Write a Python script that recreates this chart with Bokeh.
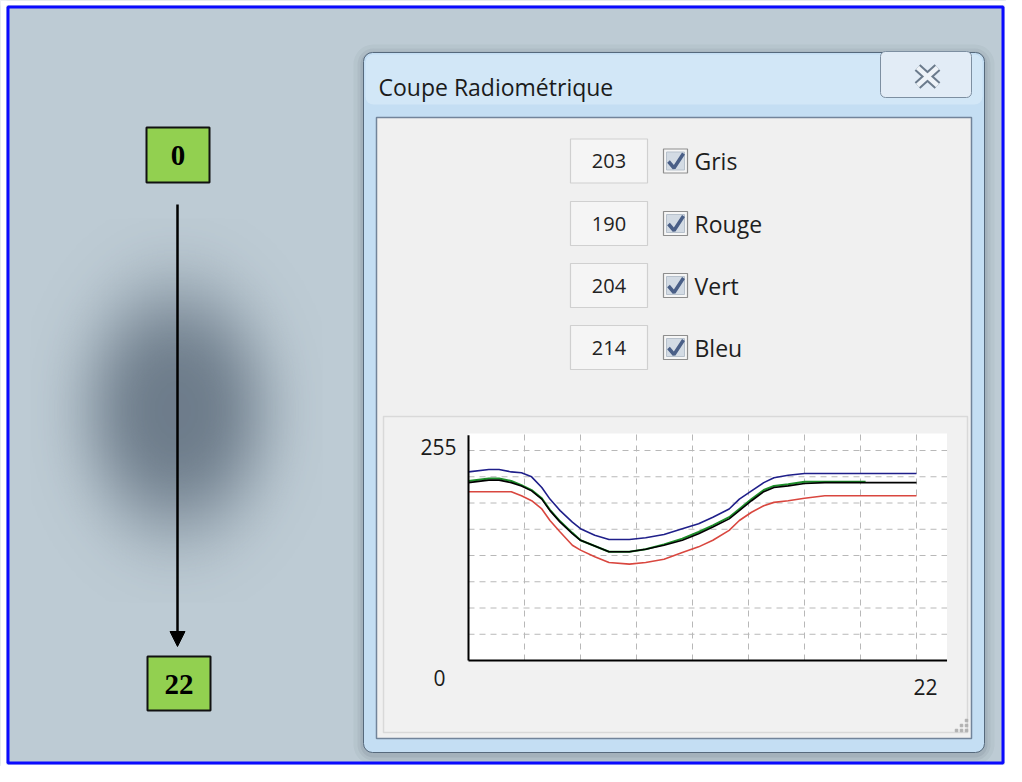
import numpy as np
from bokeh.plotting import figure
from bokeh.models import Range1d, BoxAnnotation, Arrow, NormalHead
from bokeh.core.properties import value
from bokeh.embed import file_html
from bokeh.resources import INLINE

# ---------------- data ----------------
profile_x = [0, 1.0, 1.5, 2.1, 2.6, 3.1, 3.6, 4.0, 4.5, 5.1, 5.5, 6.2, 6.9, 7.9, 8.7,
             9.6, 10.5, 11.3, 12.0, 12.8, 13.3, 13.9, 14.5, 15.0, 15.7, 16.5, 17.5, 19.5, 22]
bleu = [229, 232, 232, 229, 228, 223, 210, 196, 182, 168, 160, 152, 147, 147, 149,
        153, 160, 166, 174, 184, 196, 206, 216, 222, 225, 227, 227, 227, 227]
gris = [216, 219, 219, 216, 212, 206, 196, 182, 168, 154, 146, 139, 132, 132, 135,
        140, 146, 154, 162, 172, 182, 194, 205, 210, 212, 215, 216, 216, 216]
rouge = [205, 205, 205, 205, 200, 194, 184, 170, 156, 140, 134, 126, 119, 117, 119,
         123, 131, 138, 146, 158, 170, 180, 188, 192, 194, 197, 200, 200, 200]
vert_x = [0, 1.0, 1.5, 2.1, 2.6, 3.1, 3.6, 4.0, 4.5, 5.1, 5.5, 6.2, 6.9, 7.9, 8.7,
          9.6, 10.5, 11.3, 12.0, 12.8, 13.3, 13.9, 14.5, 15.0, 15.7, 16.5, 17.5, 19.5]
vert = [218, 221, 221, 218, 213, 207, 197, 183, 169, 155, 146, 139, 132, 132, 135,
        141, 148, 156, 164, 174, 184, 196, 207, 212, 214, 217, 217, 217]

grid_x = [2.75, 5.5, 8.25, 11.0, 13.75, 16.5, 19.25, 22.0]
grid_y = [31.875, 63.75, 95.625, 127.5, 159.375, 191.25, 223.125, 255.0]
x_max, y_max = 22, 255
plot_right, plot_top = 23.5, 275.5

channel_names = ["Gris", "Rouge", "Vert", "Bleu"]
channel_values = ["203", "190", "204", "214"]
profile_ends = ["0", "22"]
title = "Coupe Radiométrique"

# ---------------- page geometry (screen pixels) ----------------
W, H = 1006, 766
p = figure(width=W, height=H, x_range=Range1d(0, W), y_range=Range1d(H, 0),
           x_axis_type=None, y_axis_type=None, output_backend="svg",
           toolbar_location=None, min_border=0)
p.grid.visible = False
p.background_fill_color = "#bdcbd4"
p.border_fill_color = "white"
p.outline_line_alpha = 0

# chart coordinate system mapped onto the dialog's plot area
X0_PX, XE_PX = 468, 916
Y0_PX, YE_PX = 660, 450
sx = (XE_PX - X0_PX) / x_max
sy = (Y0_PX - YE_PX) / y_max
p.extra_x_ranges = {"cx": Range1d(0 - X0_PX / sx, x_max + (W - XE_PX) / sx)}
p.extra_y_ranges = {"cy": Range1d(0 - (H - Y0_PX) / sy, y_max + YE_PX / sy)}
C = dict(x_range_name="cx", y_range_name="cy")

# ---------------- blurred dark spot ----------------
nx, ny = 240, 320
gx = np.linspace(-1.25, 1.25, nx)
gy = np.linspace(-1.25, 1.25, ny)
XX, YY = np.meshgrid(gx, gy)
rr = np.sqrt(XX ** 2 + YY ** 2)
alpha = 0.76 * np.exp(-2.0 * rr ** 3)
img = np.zeros((ny, nx, 4), dtype=np.uint8)
img[..., 0] = 84
img[..., 1] = 99
img[..., 2] = 115
img[..., 3] = (alpha * 255).astype(np.uint8)
p.image_rgba(image=[img.view(np.uint32).reshape(ny, nx)], x=176 - 146, y=410 - 192,
             dw=292, dh=384, level="image")

# ---------------- arrow + green labels ----------------
p.add_layout(Arrow(x_start=177, y_start=204, x_end=177, y_end=646, line_width=2.5,
                   line_color="black",
                   end=NormalHead(size=15, fill_color="black", line_color="black")))
p.quad(left=[146, 147], right=[209, 210], top=[127, 656], bottom=[182, 710],
       fill_color="#92d050", line_color="#111111", line_width=2)
p.text(x=[177.5, 178.5], y=[155, 684], text=profile_ends,
       text_font=value("Liberation Serif"), text_font_style="bold",
       text_font_size="29px", text_align="center", text_baseline="middle",
       text_color="black")

# ---------------- dialog window ----------------
for pad, a in [(10, 0.04), (6, 0.05), (3, 0.07)]:
    p.add_layout(BoxAnnotation(left=363 - pad, right=984 + pad, top=52 - pad + 2,
                               bottom=752 + pad + 2, border_radius=10 + pad,
                               fill_color="#1e2a36", fill_alpha=a, line_alpha=0,
                               level="underlay"))
p.add_layout(BoxAnnotation(left=363, right=984, top=52, bottom=752, border_radius=9,
                           fill_color="#c4def3", fill_alpha=1, line_color="#56697c",
                           line_alpha=1, line_width=1, level="underlay"))
p.add_layout(BoxAnnotation(left=365, right=982, top=54, bottom=104, border_radius=8,
                           fill_color="#d6e8f7", fill_alpha=0.8, line_alpha=0,
                           level="underlay"))
p.add_layout(BoxAnnotation(left=880, right=971, top=51, bottom=97, border_radius=5,
                           fill_color="#e2ecf6", fill_alpha=1, line_color="#7d8fa1",
                           line_alpha=1, line_width=1, level="underlay"))
p.segment(x0=[917, 937], y0=[67, 67], x1=[937, 917], y1=[85, 85],
          line_color="#6b7b8c", line_width=8.5)
p.segment(x0=[917, 937], y0=[67, 67], x1=[937, 917], y1=[85, 85],
          line_color="#eef3f8", line_width=4.5)
p.text(x=[378], y=[86], text=[title], text_font=value("Open Sans"),
       text_font_size="23px", text_align="left", text_baseline="middle",
       text_color="#1b1b1b")

# client area
p.quad(left=[376], right=[971], top=[117], bottom=[738], fill_color="#f0f0f0",
       line_color="#72849a", line_width=1.5)

# value boxes, checkboxes, labels
row_y = [160.5, 223, 285, 347]
p.quad(left=[570] * 4, right=[647] * 4, top=[y - 22 for y in row_y],
       bottom=[y + 22 for y in row_y], fill_color="#f5f5f5", line_color="#d0d0d0",
       line_width=1.2)
p.text(x=[608.5] * 4, y=row_y, text=channel_values, text_font=value("Open Sans"),
       text_font_size="20px", text_align="center", text_baseline="middle",
       text_color="#222222")
p.quad(left=[663] * 4, right=[687] * 4, top=[y - 12 for y in row_y],
       bottom=[y + 12 for y in row_y], fill_color="#f6f6f6", line_color="#8e8e8e",
       line_width=1.2)
p.quad(left=[666] * 4, right=[684] * 4, top=[y - 9 for y in row_y],
       bottom=[y + 9 for y in row_y], fill_color="#d3dbe4", line_color="#b7c1cc",
       line_width=1)
p.multi_line(xs=[[668, 673.5, 683] for _ in row_y],
             ys=[[y + 0.5, y + 7, y - 7.5] for y in row_y],
             line_color="#4a5f87", line_width=3.5)
p.text(x=[694] * 4, y=row_y, text=channel_names, text_font=value("Open Sans"),
       text_font_size="23px", text_align="left", text_baseline="middle",
       text_color="#1e1e1e")

# chart panel
p.quad(left=[383], right=[967], top=[416], bottom=[732], fill_color="#f1f1f1",
       line_color="#d9d9d9", line_width=1.5)
p.scatter(x=[966, 966, 961, 966, 961, 956], y=[720, 725, 725, 730, 730, 730],
          marker="square", size=2.5, color="#b0b0b0")

# ---------------- the chart itself (chart coordinates) ----------------
p.quad(left=[0], right=[plot_right], bottom=[0], top=[plot_top], fill_color="white",
       line_alpha=0, **C)
p.segment(x0=grid_x, y0=[0] * len(grid_x), x1=grid_x, y1=[plot_top] * len(grid_x),
          line_color="#b8b8b8", line_width=1, line_dash="6 5", **C)
p.segment(x0=[0] * len(grid_y), y0=grid_y, x1=[plot_right] * len(grid_y), y1=grid_y,
          line_color="#b8b8b8", line_width=1, line_dash="6 5", **C)

p.line(profile_x, rouge, line_color="#d9473f", line_width=1.6, **C)
p.line(profile_x, bleu, line_color="#1f1f8a", line_width=1.6, **C)
p.line(vert_x, vert, line_color="#1d8f2a", line_width=2.0, **C)
p.line(profile_x, gris, line_color="#000000", line_width=1.6, **C)

p.segment(x0=[0, 0], y0=[0, 0], x1=[0, plot_right], y1=[plot_top - 2, 0],
          line_color="black", line_width=2, **C)

p.text(x=[0], y=[y_max], text=[str(y_max)], x_offset=-12, y_offset=-4,
       text_font=value("Open Sans"), text_font_size="21px", text_align="right",
       text_baseline="middle", text_color="#1b1b1b", **C)
p.text(x=[0], y=[0], text=["0"], x_offset=-29, y_offset=17, text_font=value("Open Sans"),
       text_font_size="21px", text_align="center", text_baseline="middle",
       text_color="#1b1b1b", **C)
p.text(x=[x_max], y=[0], text=[str(x_max)], x_offset=9, y_offset=26,
       text_font=value("Open Sans"), text_font_size="21px", text_align="center",
       text_baseline="middle", text_color="#1b1b1b", **C)

# outer blue frame of the picture
for l, r, t, b in [(0, 6, 0, H), (W - 2, W, 0, H), (0, W, 0, 5), (0, W, H - 2, H)]:
    p.add_layout(BoxAnnotation(left=l, right=r, top=t, bottom=b, fill_color="white",
                               fill_alpha=1, line_alpha=0, level="overlay"))
p.add_layout(BoxAnnotation(left=7.5, right=W - 3.5, top=6.5, bottom=H - 3.5,
                           fill_alpha=0, line_color="#0a0aff", line_alpha=1,
                           line_width=3, level="overlay"))

open("out.html", "w").write(file_html(p, INLINE))
